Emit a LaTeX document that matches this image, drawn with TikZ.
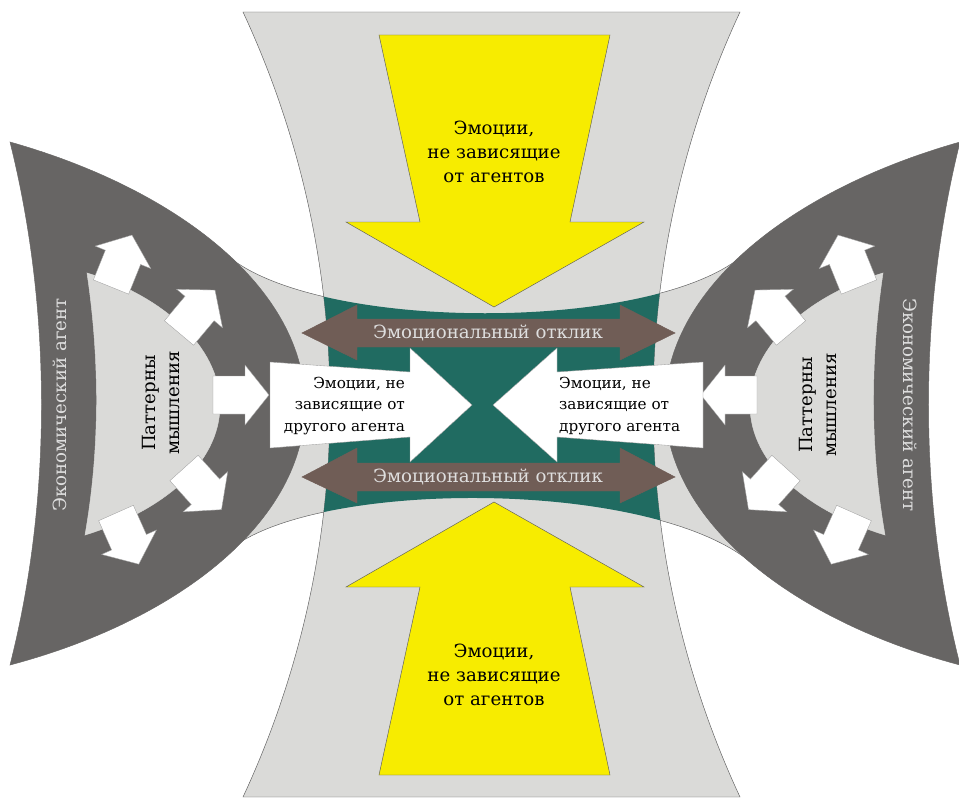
\documentclass[tikz,border=0pt]{standalone}
\usepackage{fontspec}
\setmainfont{DejaVu Serif}

\definecolor{bandgray}{RGB}{218,218,216}
\definecolor{agentgray}{RGB}{103,101,100}
\definecolor{centerteal}{RGB}{32,107,97}
\definecolor{responsebrown}{RGB}{112,93,86}
\definecolor{emoyellow}{RGB}{247,236,0}
\definecolor{linegray}{RGB}{95,95,95}
\definecolor{lighttext}{RGB}{222,222,222}

\tikzset{
  band/.style={fill=bandgray, draw=linegray, line width=0.4pt},
  agent/.style={fill=agentgray, draw=agentgray},
  pattern/.style={fill=bandgray, draw=bandgray},
  yellowarrow/.style={fill=emoyellow, draw=linegray, line width=0.4pt},
  brownarrow/.style={fill=responsebrown, draw=responsebrown},
  whitearrow/.style={fill=white, draw=linegray!60, line width=0.3pt},
  bigtext/.style={font=\fontsize{15.5}{20.5}\selectfont, align=center},
  smalltext/.style={font=\fontsize{13}{18}\selectfont}
}

% little arrow: tail x, tail y, angle
\newcommand{\thinkarrow}[3]{%
  \filldraw[whitearrow, shift={(#1,#2)}, rotate=#3]
    (0,-19) -- (32,-19) -- (32,-30) -- (56,0) -- (32,30) -- (32,19) -- (0,19) -- cycle;
}

% one economic agent, drawn on the left
\newcommand{\agentside}{%
  \filldraw[agent] (10,142) .. controls (180,190) and (305,290) .. (305,405)
    .. controls (305,520) and (180,620) .. (10,665)
    .. controls (52,500) and (52,310) .. (10,142) -- cycle;
  \filldraw[pattern] (87,273) .. controls (160,295) and (220,345) .. (220,405)
    .. controls (220,465) and (160,512) .. (85,535)
    .. controls (100,450) and (100,360) .. (87,273) -- cycle;
  \thinkarrow{111}{287}{68}
  \thinkarrow{179}{333}{50}
  \thinkarrow{213}{395}{0}
  \thinkarrow{184}{468}{-48}
  \thinkarrow{116}{513}{-66}
}

\begin{document}
\begin{tikzpicture}[x=0.3mm, y=-0.3mm]
\useasboundingbox (0,0) rectangle (959,801);

% Bands
\filldraw[band] (233,260) .. controls (330,331) and (640,331) .. (737,260)
  -- (820,300) -- (820,510) -- (748,560)
  .. controls (645,480) and (330,480) .. (236,545)
  -- (150,500) -- (150,300) -- cycle;
\filldraw[band] (243,12) -- (740,12) .. controls (624,261) and (624,548) .. (740,797)
  -- (243,797) .. controls (359,548) and (359,261) .. (243,12) -- cycle;

% Center
\begin{scope}
\clip (243,12) -- (740,12) .. controls (624,261) and (624,548) .. (740,797)
  -- (243,797) .. controls (359,548) and (359,261) .. (243,12) -- cycle;
\fill[centerteal] (233,260) .. controls (330,331) and (640,331) .. (737,260)
  -- (820,300) -- (820,510) -- (748,560)
  .. controls (645,480) and (330,480) .. (236,545)
  -- (150,500) -- (150,300) -- cycle;
\end{scope}

% Yellow arrows
\filldraw[yellowarrow] (379,35) -- (610,35) -- (570,222) -- (644,222) -- (494,307)
  -- (346,222) -- (420,222) -- cycle;
\filldraw[yellowarrow] (379,775) -- (610,775) -- (570,587) -- (644,587) -- (494,502)
  -- (346,587) -- (420,587) -- cycle;

% Agents
\agentside
\begin{scope}[shift={(970,0)}, xscale=-1]
\agentside
\end{scope}

% Response arrows
\filldraw[brownarrow] (302,333) -- (357,305) -- (357,319) -- (620,319) -- (620,305)
  -- (675,333) -- (620,360) -- (620,347) -- (357,347) -- (357,360) -- cycle;
\filldraw[brownarrow] (302,477) -- (357,448) -- (357,463) -- (620,463) -- (620,448)
  -- (675,477) -- (620,503) -- (620,491) -- (357,491) -- (357,503) -- cycle;

% Emotions from the other agent
\filldraw[whitearrow] (270,362) -- (410,372) -- (410,348) -- (472,405) -- (410,462)
  -- (410,437) -- (270,448) -- cycle;
\filldraw[whitearrow] (703,362) -- (557,372) -- (557,348) -- (493,405) -- (557,462)
  -- (557,437) -- (703,448) -- cycle;

% Labels
\node[bigtext] (emotop) at (494,152) {Эмоции,\\не зависящие\\от агентов};
\node[bigtext] (emobot) at (494,675) {Эмоции,\\не зависящие\\от агентов};
\node[bigtext, text=lighttext] (resptop) at (488,333) {Эмоциональный отклик};
\node[bigtext, text=lighttext] (respbot) at (488,477) {Эмоциональный отклик};
\node[smalltext, align=right, anchor=east] (otherl) at (409,406) {Эмоции, не\\зависящие от\\другого агента};
\node[smalltext, align=left, anchor=west] (otherr) at (555,406) {Эмоции, не\\зависящие от\\другого агента};
\node[bigtext, text=lighttext, rotate=90] (agentl) at (60,405) {Экономический агент};
\node[bigtext, text=lighttext, rotate=-90] (agentr) at (910,405) {Экономический агент};
\node[bigtext, rotate=90] (patternl) at (161,403) {Паттерны\\мышления};
\node[bigtext, rotate=90] (patternr) at (818,405) {Паттерны\\мышления};
\end{tikzpicture}
\end{document}
